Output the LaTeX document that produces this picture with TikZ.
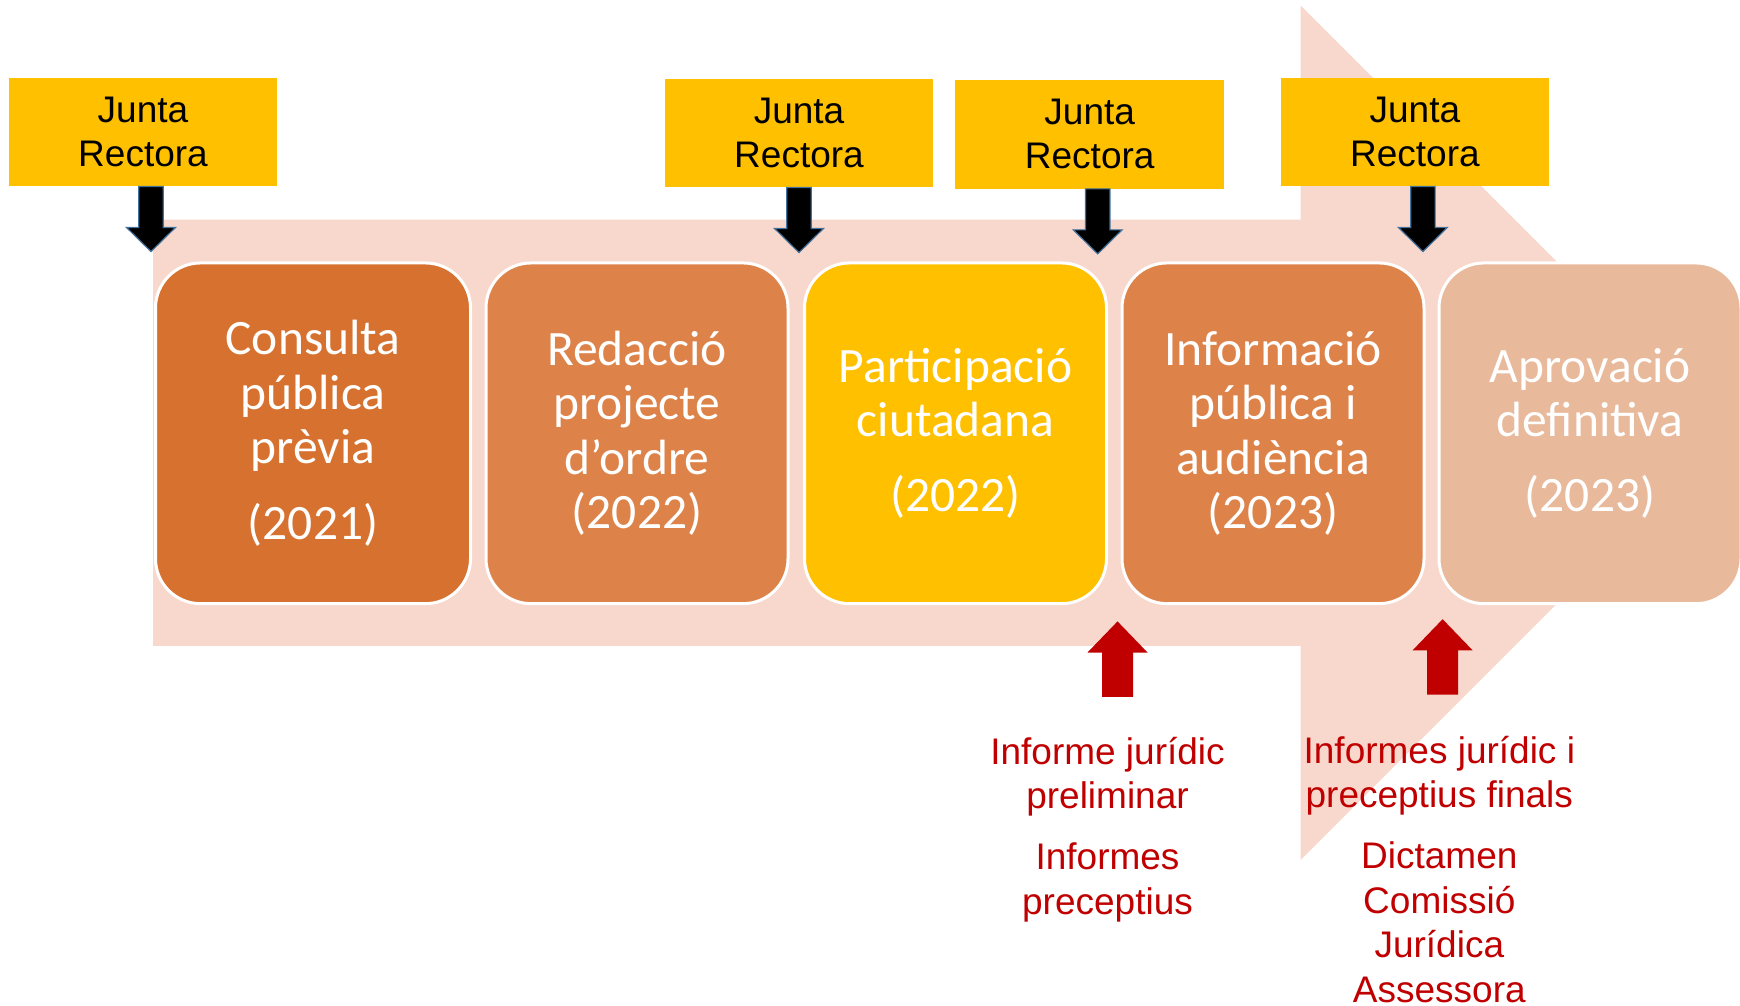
\documentclass[tikz,border=0pt]{standalone}
\usepackage{fontspec}
\setmainfont{Carlito}
\newfontfamily\arialfont{Liberation Sans}
\usepackage{tikz}
\definecolor{arrowpink}{RGB}{248,216,204}
\definecolor{stepdark}{RGB}{215,113,47}
\definecolor{stepmid}{RGB}{221,131,74}
\definecolor{steplight}{RGB}{232,185,155}
\definecolor{juntagold}{RGB}{255,192,0}
\definecolor{informred}{RGB}{192,0,0}
\definecolor{arrowedge}{RGB}{65,113,156}
\tikzset{juntabox/.style={rectangle,fill=juntagold,minimum width=268.5pt,minimum height=108.7pt,
           inner sep=0pt,align=center,font=\arialfont\fontsize{37}{44}\selectfont},
         stepbox/.style={rectangle,rounded corners=45pt,draw=white,line width=3pt,fill=#1,
           minimum width=302pt,minimum height=340.7pt,inner sep=0pt,align=center,text=white,
           font=\fontsize{49.5}{54.4}\selectfont},
         stepbox/.default=stepmid,
         informtext/.style={align=center,text=informred,inner sep=0pt,anchor=base,
           font=\arialfont\fontsize{37}{44.4}\selectfont},
         downarrow/.style={fill=black,draw=arrowedge,line width=1.2pt,line join=miter},
         uparrow/.style={fill=informred}}
\usetikzlibrary{calc}

\begin{document}
\begin{tikzpicture}[x=1pt,y=-1pt]
\useasboundingbox (0,0) rectangle (1740,1006);
\fill[arrowpink] (153,219.7) -- (1300.6,219.7) -- (1300.6,5.5) -- (1728,432.8)
  -- (1300.6,860) -- (1300.6,645.9) -- (153,645.9) -- cycle;

\foreach \name/\x/\y in {j1/143/132,j2/799/133,j3/1089.7/134.3,j4/1414.9/132}
  \node[juntabox] (\name) at (\x,\y) {Junta\\Rectora};

\foreach \name/\dx in {j1/8,j2/0,j3/8,j4/8}
{
\draw[downarrow] ($(\name.south)+(\dx,0)$) ++(-12.2,0) -- ++(0,41) -- ++(-12.2,0)
  -- ++(24.4,24) -- ++(24.4,-24) -- ++(-12.2,0) -- ++(0,-41) -- cycle;
}

\node[stepbox=stepdark,minimum width=315pt] (consulta) at (313,433.3) {Consulta\\pública\\prèvia\\[21pt](2021)};
\node[stepbox] (redaccio) at (637,433.3) {Redacció\\projecte\\d’ordre\\(2022)};
\node[stepbox=juntagold] (participacio) at (955.5,433.3) {Participació\\ciutadana\\[21pt](2022)};
\node[stepbox] (informacio) at (1273,433.3) {Informació\\pública i\\audiència\\(2023)};
\node[stepbox=steplight] (aprovacio) at (1590,433.3) {Aprovació\\definitiva\\[21pt](2023)};

\coordinate (r1) at (1117.5,696.9);
\coordinate (r2) at (1442.6,694.7);
\foreach \name in {r1,r2}
{
\fill[uparrow] (\name) ++(-15.5,0) -- ++(0,-44.4) -- ++(-14.5,0) -- ++(30,-31.1)
  -- ++(30,31.1) -- ++(-14.5,0) -- ++(0,44.4) -- cycle;
}

% base anchor sits on the last line
\node[informtext] (preliminar) at (1107.5,914.2) {Informe jurídic\\preliminar\\[17pt]Informes\\preceptius};
\node[informtext] (finals) at (1439.3,1002) {Informes jurídic i\\preceptius finals\\[17pt]Dictamen\\Comissió\\Jurídica\\Assessora};
\end{tikzpicture}
\end{document}
